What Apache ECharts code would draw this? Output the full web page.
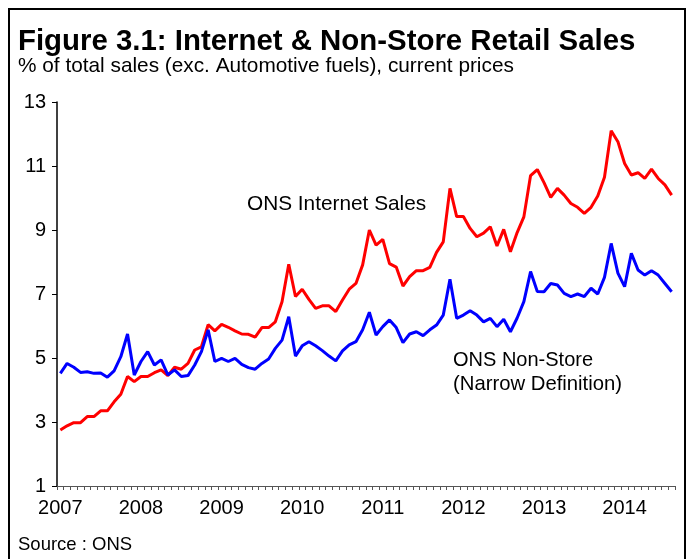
<!DOCTYPE html>
<html>
<head>
<meta charset="utf-8">
<script src="https://cdn.jsdelivr.net/npm/echarts@6/dist/echarts.min.js"></script>
<style>
  html, body { margin: 0; padding: 0; background: #fff; }
  #chart { width: 691px; height: 559px; }
</style>
</head>
<body>
<div id="chart"></div>
<script>
// Monthly share of total retail sales (%), Jan 2007 – Aug 2014
const years = ['2007', '2008', '2009', '2010', '2011', '2012', '2013', '2014'];
const monthsInLastYear = 8;

const internetSales = [
  2.75, 2.88, 2.98, 2.98, 3.17, 3.17, 3.35, 3.35, 3.63, 3.87, 4.42, 4.26,
  4.42, 4.42, 4.54, 4.63, 4.45, 4.71, 4.65, 4.83, 5.25, 5.35, 6.04, 5.85,
  6.05, 5.96, 5.85, 5.75, 5.74, 5.65, 5.95, 5.95, 6.13, 6.76, 7.93, 6.92,
  7.15, 6.83, 6.55, 6.63, 6.63, 6.45, 6.81, 7.15, 7.33, 7.91, 9.00, 8.53,
  8.71, 7.95, 7.84, 7.25, 7.54, 7.73, 7.73, 7.83, 8.30, 8.63, 10.30, 9.42,
  9.42, 9.05, 8.79, 8.90, 9.10, 8.50, 9.02, 8.32, 8.92, 9.41, 10.70, 10.89,
  10.48, 10.02, 10.30, 10.09, 9.83, 9.71, 9.52, 9.71, 10.06, 10.65, 12.10, 11.76,
  11.08, 10.72, 10.79, 10.61, 10.90, 10.61, 10.41, 10.09
];

const nonStoreNarrow = [
  4.52, 4.83, 4.71, 4.55, 4.57, 4.52, 4.53, 4.40, 4.60, 5.04, 5.75, 4.47,
  4.89, 5.20, 4.78, 4.94, 4.47, 4.63, 4.42, 4.45, 4.78, 5.20, 5.88, 4.89,
  4.99, 4.89, 4.99, 4.80, 4.70, 4.65, 4.83, 4.97, 5.30, 5.56, 6.29, 5.06,
  5.38, 5.51, 5.38, 5.23, 5.06, 4.91, 5.22, 5.41, 5.51, 5.88, 6.43, 5.72,
  5.98, 6.19, 5.95, 5.48, 5.75, 5.82, 5.70, 5.88, 6.03, 6.34, 7.46, 6.24,
  6.34, 6.48, 6.34, 6.13, 6.24, 5.98, 6.21, 5.82, 6.25, 6.76, 7.70, 7.08,
  7.07, 7.33, 7.28, 7.02, 6.92, 7.00, 6.92, 7.18, 7.00, 7.52, 8.58, 7.65,
  7.23, 8.27, 7.75, 7.59, 7.73, 7.59, 7.33, 7.07
];

const yTicks = { min: 1, max: 13, step: 2 };

// One category per month; the year is shown on each January
const months = [];
years.forEach((y, yi) => {
  const n = yi === years.length - 1 ? monthsInLastYear : 12;
  for (let m = 1; m <= n; m++) months.push(y + '-' + (m < 10 ? '0' + m : m));
});

const FONT = '"Liberation Sans", Arial, sans-serif';

const chart = echarts.init(document.getElementById('chart'), null, { renderer: 'canvas' });

chart.setOption({
  backgroundColor: '#ffffff',
  animation: false,
  textStyle: { fontFamily: FONT, color: '#000' },
  grid: { left: 57, right: 16, top: 102, bottom: 73, containLabel: false },
  xAxis: {
    type: 'category',
    data: months,
    boundaryGap: true,
    axisLine: { show: true, lineStyle: { color: '#555', width: 1 } },
    axisTick: { show: true, interval: 0, length: 4, lineStyle: { color: '#555', width: 1 } },
    axisLabel: {
      interval: (idx, val) => val.endsWith('-01'),
      formatter: (val) => val.slice(0, 4),
      fontSize: 20,
      fontFamily: FONT,
      color: '#000',
      margin: 12
    },
    splitLine: { show: false }
  },
  yAxis: {
    type: 'value',
    min: yTicks.min,
    max: yTicks.max,
    interval: yTicks.step,
    axisLine: { show: true, lineStyle: { color: '#000', width: 1.5 } },
    axisTick: { show: true, length: 5, lineStyle: { color: '#000', width: 1 } },
    axisLabel: { fontSize: 20, fontFamily: FONT, color: '#000', margin: 11 },
    splitLine: { show: false }
  },
  series: [
    {
      name: 'ONS Internet Sales',
      type: 'line',
      data: internetSales,
      showSymbol: false,
      symbol: 'none',
      lineStyle: { color: '#ff0000', width: 3 },
      z: 3
    },
    {
      name: 'ONS Non-Store (Narrow Definition)',
      type: 'line',
      data: nonStoreNarrow,
      showSymbol: false,
      symbol: 'none',
      lineStyle: { color: '#0000ff', width: 3 },
      z: 4
    }
  ],
  graphic: [
    {
      type: 'rect',
      shape: { x: 9, y: 9, width: 676, height: 600 },
      style: { fill: 'none', stroke: '#000', lineWidth: 2 },
      silent: true
    },
    {
      type: 'text', left: 18, top: 27,
      style: { text: 'Figure 3.1: Internet & Non-Store Retail Sales', font: 'bold 29.4px ' + FONT, fill: '#000' }
    },
    {
      type: 'text', left: 18, top: 56,
      style: { text: '% of total sales (exc. Automotive fuels), current prices', font: '20.8px ' + FONT, fill: '#000' }
    },
    {
      type: 'text', left: 247, top: 194,
      style: { text: 'ONS Internet Sales', font: '20.8px ' + FONT, fill: '#000' }
    },
    {
      type: 'text', left: 453, top: 350,
      style: { text: 'ONS Non-Store', font: '20px ' + FONT, fill: '#000' }
    },
    {
      type: 'text', left: 453, top: 374,
      style: { text: '(Narrow Definition)', font: '20.3px ' + FONT, fill: '#000' }
    },
    {
      type: 'text', left: 18, top: 535,
      style: { text: 'Source : ONS', font: '18.5px ' + FONT, fill: '#000' }
    }
  ]
});
</script>
</body>
</html>
